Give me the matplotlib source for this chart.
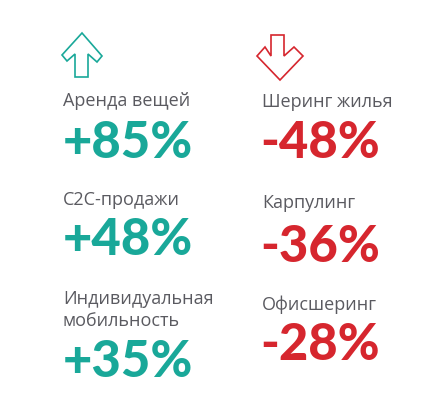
import matplotlib
matplotlib.use('Agg')
import matplotlib.pyplot as plt
from matplotlib.patches import Polygon

# data
up_labels = ['Аренда вещей', 'С2С-продажи', 'Индивидуальная\nмобильность']
up_values = [85, 48, 35]
down_labels = ['Шеринг жилья', 'Карпулинг', 'Офисшеринг']
down_values = [-48, -36, -28]

teal = '#19a899'
red = '#d6262e'
grey = '#5a5a60'

fig = plt.figure(figsize=(4.47, 4.10), dpi=100)
ax = fig.add_axes([0, 0, 1, 1])
ax.set_xlim(0, 447)
ax.set_ylim(410, 0)
ax.axis('off')

# arrows (outlined)
up_arrow = [(75, 78), (88, 78), (88, 55), (97, 63), (102, 57), (82, 34),
            (62, 56), (67, 62), (75, 55)]
down_arrow = [(271, 36), (284, 36), (284, 57), (294, 48), (303, 57), (280, 81),
              (257, 57), (265, 48), (271, 57)]
ax.add_patch(Polygon(up_arrow, closed=True, fill=False, edgecolor=teal, lw=1.2,
                     joinstyle='miter'))
ax.add_patch(Polygon(down_arrow, closed=True, fill=False, edgecolor=red, lw=1.2,
                     joinstyle='miter'))

label_font = dict(family=['Open Sans', 'DejaVu Sans'], fontsize=13, color=grey,
                  fontweight='normal')
num_font = dict(family=['Lato', 'DejaVu Sans'], fontsize=36.5, fontweight='black')

# left column
up_label_y = [106, 205, 326]
up_num_y = [158, 255, 377]
for lab, val, ly, ny in zip(up_labels, up_values, up_label_y, up_num_y):
    ax.text(63, ly, lab, va='baseline', ha='left', linespacing=1.25, **label_font)
    ax.text(63, ny, f'+{val}%', va='baseline', ha='left', color=teal, **num_font)

# right column
down_label_y = [107, 208, 310]
down_num_y = [158, 262, 360]
for lab, val, ly, ny in zip(down_labels, down_values, down_label_y, down_num_y):
    ax.text(262, ly, lab, va='baseline', ha='left', **label_font)
    ax.text(260, ny, f'-{abs(val)}%', va='baseline', ha='left', color=red, **num_font)

plt.savefig('out.png', dpi=100)
